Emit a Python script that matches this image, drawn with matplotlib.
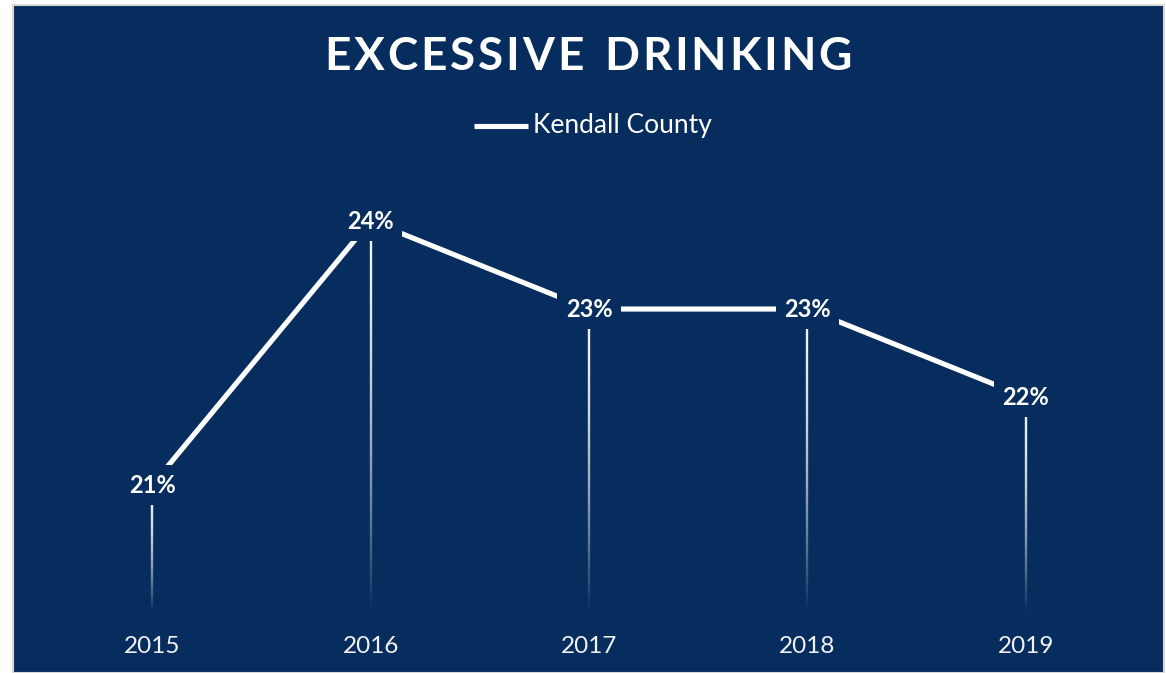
import numpy as np
import matplotlib
matplotlib.use("Agg")
import matplotlib.pyplot as plt
from matplotlib.collections import LineCollection
from matplotlib.patches import Rectangle

years = ["2015", "2016", "2017", "2018", "2019"]
values = [0.21, 0.24, 0.23, 0.23, 0.22]
series_name = "Kendall County"
title = "EXCESSIVE DRINKING"

NAVY = "#062D5E"
W, H = 1166, 673
fig = plt.figure(figsize=(W / 100, H / 100), dpi=100, facecolor="white")

# panel
fig.patches.append(Rectangle((12.5 / W, 0), (1163.5 - 12.5) / W, (H - 4.5) / H,
                             transform=fig.transFigure, facecolor=NAVY,
                             edgecolor="#D9D9D9", linewidth=1.5, zorder=-5))

ax = fig.add_axes([43 / W, 1 - 612 / H, (1135 - 43) / W, (612 - 170) / H])
ax.set_zorder(2)
ax.set_facecolor("none")
x = np.arange(len(years))
ymin, ymax = 0.19557, 0.24580
ax.set_xlim(-0.5, len(years) - 0.5)
ax.set_ylim(ymin, ymax)
for s in ax.spines.values():
    s.set_visible(False)
ax.set_yticks([])
ax.set_xticks(x)
ax.set_xticklabels(years, fontsize=17.5, color="#F2F2F2", family="Lato",
                   fontweight="normal")
ax.tick_params(axis="x", length=0, pad=17)

# gradient drop lines
for xi, v in zip(x, values):
    n = 120
    ys = np.linspace(v, ymin, n + 1)
    segs = [[(xi, ys[i]), (xi, ys[i + 1])] for i in range(n)]
    t = np.linspace(0, 1, n)
    alphas = 0.95 * (1 - t ** 1.8)
    cols = [(1, 1, 1, a) for a in alphas]
    lc = LineCollection(segs, colors=cols, linewidths=1.7, zorder=2,
                        capstyle="butt")
    ax.add_collection(lc)

line, = ax.plot(x, values, color="white", linewidth=3.7, zorder=3,
                solid_capstyle="butt", label=series_name)

for xi, v in zip(x, values):
    ax.text(xi, v, f"{round(v * 100)}%", ha="center", va="center",
            fontsize=17, fontweight="bold", color="white", family="Lato",
            zorder=5,
            bbox=dict(boxstyle="square,pad=0.35", facecolor=NAVY,
                      edgecolor="none"))

# legend
ly = 1 - 126 / H
fig.lines.append(plt.Line2D([474 / W, 528 / W], [ly, ly], color="white",
                            linewidth=3.7, transform=fig.transFigure,
                            solid_capstyle="butt"))
fig.text(533 / W, ly, series_name, ha="left", va="center", fontsize=19,
         color="white", family="Lato", fontweight="normal")

# title with letter spacing
fig.canvas.draw()
renderer = fig.canvas.get_renderer()
tsize = 33
track = 2.8  # px extra per char
chars = list(title)
widths = []
for c in chars:
    tt = fig.text(0, 0, c if c != " " else "I", fontsize=tsize,
                  fontweight="bold", family="Lato")
    bb = tt.get_window_extent(renderer)
    widths.append(bb.width if c != " " else bb.width * 1.1)
    tt.remove()
total = sum(widths) + track * (len(chars) - 1)
cx = 588
start = cx - total / 2
ty = 1 - 57 / H
pos = start
for c, w in zip(chars, widths):
    if c != " ":
        fig.text(pos / W, ty, c, ha="left", va="center", fontsize=tsize,
                 fontweight="bold", family="Lato", color="white")
    pos += w + track

fig.savefig("out.png", dpi=100, facecolor="white")
